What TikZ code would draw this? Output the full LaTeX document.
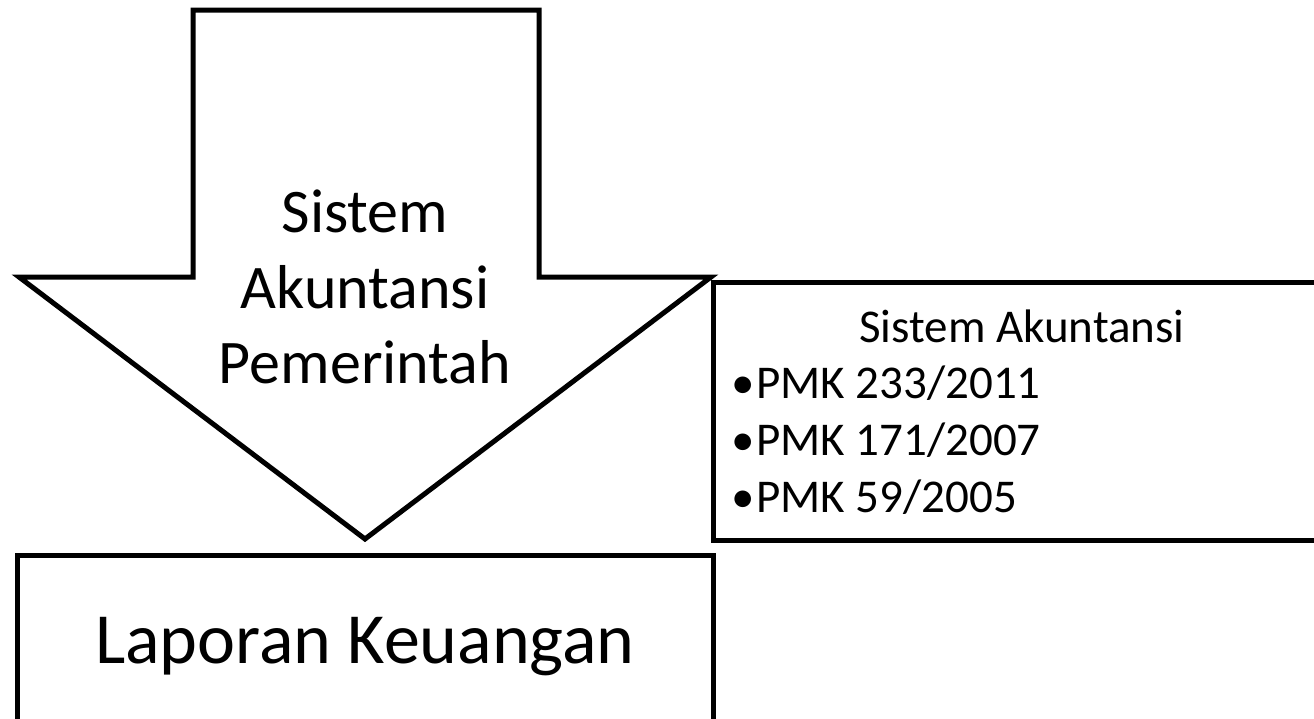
\documentclass[tikz,border=0pt]{standalone}
\usepackage{fontspec}
\setmainfont{Carlito}
\begin{document}
\begin{tikzpicture}[x=1pt,y=-1pt,
  shapeline/.style={draw=black,line width=5pt,line join=miter},
  bigtxt/.style={anchor=base,inner sep=0pt,font=\fontsize{62}{76}\selectfont},
  lktxt/.style={anchor=base,inner sep=0pt,font=\fontsize{72}{88}\selectfont},
  smalltxt/.style={anchor=base,inner sep=0pt,font=\fontsize{47}{57}\selectfont},
  bullettxt/.style={anchor=base west,inner sep=0pt,font=\fontsize{47}{57}\selectfont}]
\useasboundingbox (0,0) rectangle (1314,718);
\clip (0,0) rectangle (1314,718);
\fill[white] (0,0) rectangle (1314,718);
% block arrow
\draw[shapeline] (193,10) -- (539,10) -- (539,277) -- (711,277) -- (365,539) -- (19,277) -- (193,277) -- cycle;
\node[bigtxt] (a1) at (365,232) {Sistem};
\node[bigtxt] (a2) at (365,308) {Akuntansi};
\node[bigtxt] (a3) at (365,383) {Pemerintah};
% right box
\draw[shapeline] (713,282) rectangle (1330,540);
\node[smalltxt] (t0) at (1022,342) {Sistem Akuntansi};
\node[smalltxt] (b1) at (743,398) {•};
\node[bullettxt] (t1) at (756,398) {PMK 233/2011};
\node[smalltxt] (b2) at (743,455) {•};
\node[bullettxt] (t2) at (756,455) {PMK 171/2007};
\node[smalltxt] (b3) at (743,512) {•};
\node[bullettxt] (t3) at (756,512) {PMK 59/2005};
% bottom box
\draw[shapeline] (17,555) rectangle (713,740);
\node[lktxt] (lk) at (365,663) {Laporan Keuangan};
\end{tikzpicture}
\end{document}
